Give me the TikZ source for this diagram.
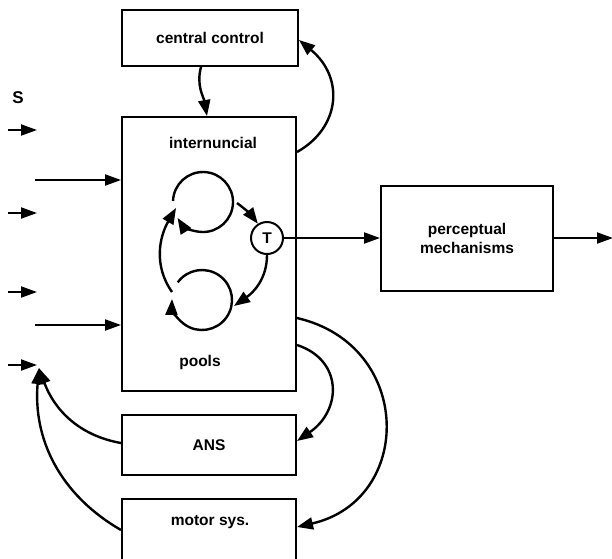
\documentclass[tikz,border=0pt]{standalone}
\usepackage{fontspec}
\setmainfont{Liberation Sans}
\usetikzlibrary{arrows.meta}
\begin{document}
\begin{tikzpicture}[x=1pt, y=1pt, font=\bfseries\fontsize{15.5}{19}\selectfont,
  box/.style={draw, line width=2pt, inner sep=0pt, align=center},
  arr/.style={line width=2pt, -{Triangle[length=16pt,width=11pt]}},
  feed/.style={line width=2.4pt, -{Triangle[length=16pt,width=12pt]}}]
\useasboundingbox (0,0) rectangle (612,-558);
% boxes
\node[box, minimum width=176pt, minimum height=56pt] (cc) at (210,-38) {central control};
\node[box, minimum width=174pt, minimum height=274pt] (pool) at (209,-254) {};
\node (intern) at (213,-143) {internuncial};
\node (pools) at (200,-362) {pools};
\node[box, minimum width=174pt, minimum height=60pt] (ans) at (209,-445) {ANS};
\node[box, minimum width=174pt, minimum height=64pt, anchor=north] (motor) at (209,-498) {};
\node (motorlbl) at (210,-522) {motor sys.};
\node[box, minimum width=172pt, minimum height=105pt] (perc) at (467,-238) {perceptual\\mechanisms};
\node[draw, circle, line width=2pt, minimum size=32pt, inner sep=0pt] (T) at (267,-238) {T};
\node[font=\bfseries\fontsize{17}{20}\selectfont] (S) at (18,-98) {S};
% the two loops
\draw[feed] (203,-202) ++(178:30) arc[start angle=178, end angle=-148, radius=30];
\draw[feed] (202,-300) ++(144:30) arc[start angle=144, end angle=-182, radius=30];
\coordinate (up) at (237,-203);
\coordinate (upin) at (176,-208);
\coordinate (lowout) at (172,-292);
\coordinate (lowin) at (234,-306);
\draw[feed] (lowout) to[out=125, in=-120] (upin);
\draw[feed] (up) to[bend left=8] (T);
\draw[feed] (T.south) to[out=-90, in=35] (lowin);
% outputs
\draw[arr] (T) -- (perc);
\coordinate (out) at (613,-238);
\draw[arr] (perc) -- (out);
% central control
\draw[feed] (cc.south -| 201,0) to[out=-105, in=100] (pool.north -| 207,0);
\draw[feed] (pool.east |- 0,-152) .. controls (340,-128) and (345,-78) .. (cc.east |- 0,-40);
% effectors
\draw[feed] (pool.east |- 0,-318) .. controls (414,-345) and (414,-500) .. (motor.east |- 0,-527);
\draw[feed] (pool.east |- 0,-345) .. controls (343,-360) and (342,-410) .. (ans.east |- 0,-441);
% inputs
\foreach \y in {130,213,292,365}
  \draw[arr] (8,-\y) -- (37,-\y);
\foreach \y in {180,325}
  \draw[arr] (35,-\y) -- (pool.west |- 0,-\y);
% feedback
\coordinate (fb) at (39,-368);
\draw[feed] (ans.west |- 0,-443) to[out=170, in=-70] (fb);
\draw[feed] (motor.west |- 0,-530) to[out=150, in=-95] (fb);
\end{tikzpicture}
\end{document}
